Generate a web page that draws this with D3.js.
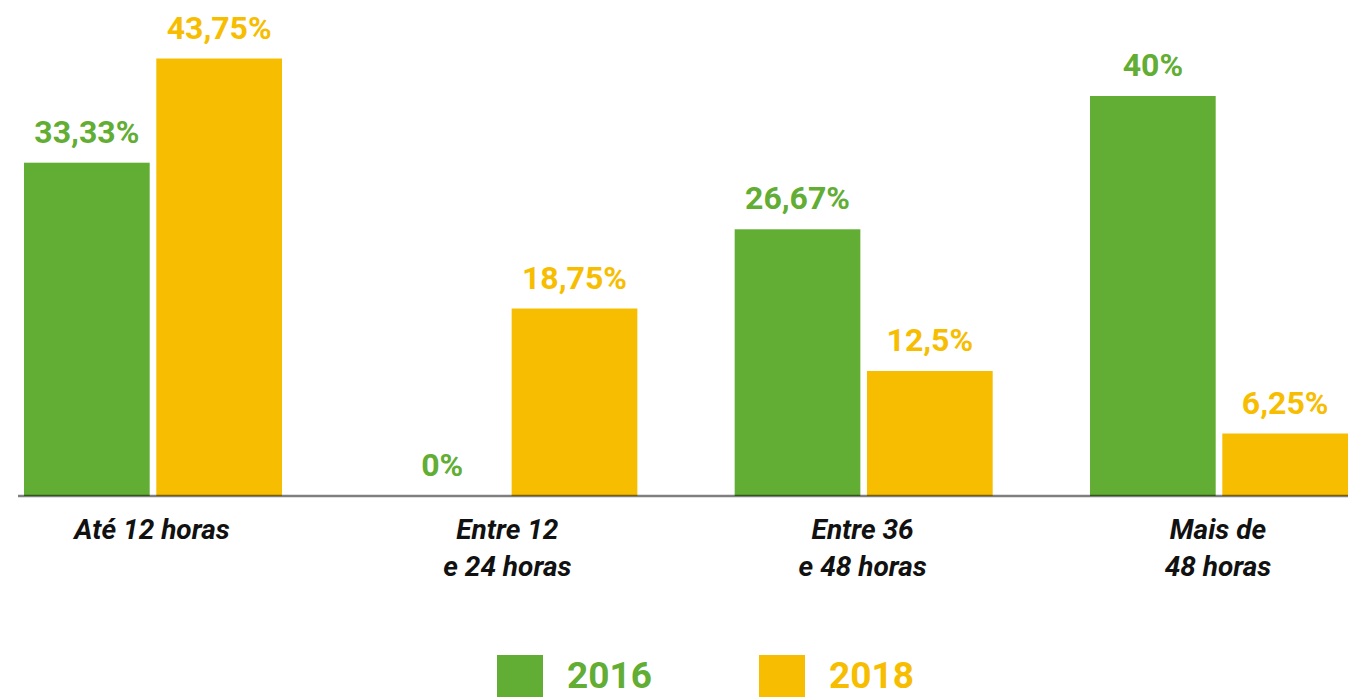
<!DOCTYPE html>
<html>
<head>
<meta charset="utf-8">
<script src="https://cdn.jsdelivr.net/npm/d3@7"></script>
<style>
    html, body { margin: 0; padding: 0; background: #fff; overflow: hidden; }
    svg { display: block; font-family: Roboto, "DejaVu Sans", sans-serif; }
</style>
</head>
<body>
<svg id="chart" width="1348" height="697"></svg>
<script>
// Kategorien und Werte (in %)
const categories = ['Até 12 horas', 'Entre 12 e 24 horas', 'Entre 36 e 48 horas', 'Mais de 48 horas'];
const categoryLines = [['Até 12 horas'], ['Entre 12', 'e 24 horas'], ['Entre 36', 'e 48 horas'], ['Mais de', '48 horas']];
const seriesNames = ['2016', '2018'];
const values2016 = [33.33, 0, 26.67, 40];
const values2018 = [43.75, 18.75, 12.5, 6.25];
const valueLabels2016 = ['33,33%', '0%', '26,67%', '40%'];
const valueLabels2018 = ['43,75%', '18,75%', '12,5%', '6,25%'];

const COLORS = { '2016': '#62ad33', '2018': '#f7bd00' };

const svg = d3.select('#chart');
const baseline = 496;

// Skalen
const xGroup = d3.scalePoint()
    .domain(categories)
    .range([152, 1218]);

const xSeries = d3.scaleBand()
    .domain(seriesNames)
    .range([-128, 130])
    .paddingInner(0.05);

const yScale = d3.scaleLinear()
    .domain([0, 45])
    .range([baseline, 46]);

const series = [
    { name: '2016', values: values2016, labels: valueLabels2016 },
    { name: '2018', values: values2018, labels: valueLabels2018 }
];

// Balken + Werte
series.forEach(s => {
    const g = svg.append('g').attr('class', `series-${s.name}`);

    g.selectAll('rect')
        .data(s.values)
        .enter()
        .append('rect')
        .attr('x', (d, i) => xGroup(categories[i]) + xSeries(s.name))
        .attr('y', d => yScale(d))
        .attr('width', xSeries.bandwidth())
        .attr('height', d => baseline - yScale(d))
        .style('fill', COLORS[s.name]);

    g.selectAll('text')
        .data(s.values)
        .enter()
        .append('text')
        .attr('x', (d, i) => xGroup(categories[i]) + xSeries(s.name) + xSeries.bandwidth() / 2)
        .attr('y', d => yScale(d) - 20)
        .attr('text-anchor', 'middle')
        .style('font-size', '32px')
        .style('font-weight', 700)
        .style('fill', COLORS[s.name])
        .text((d, i) => s.labels[i]);
});

// Grundlinie (ueber den Balken)
svg.append('line')
    .attr('x1', 18)
    .attr('x2', 1348)
    .attr('y1', baseline)
    .attr('y2', baseline)
    .style('stroke', '#000')
    .style('stroke-opacity', 0.5)
    .style('stroke-width', 2.5);

// Kategorie-Beschriftungen
categories.forEach((cat, i) => {
    const t = svg.append('text')
        .attr('x', xGroup(cat))
        .attr('y', 539)
        .attr('text-anchor', 'middle')
        .style('font-size', '28px')
        .style('font-weight', 700)
        .style('font-style', 'italic')
        .style('fill', '#111');
    categoryLines[i].forEach((line, j) => {
        t.append('tspan')
            .attr('x', xGroup(cat))
            .attr('dy', j === 0 ? 0 : 37)
            .text(line);
    });
});

// Legende
const legendX = d3.scalePoint()
    .domain(seriesNames)
    .range([497, 759]);

const legend = svg.append('g').attr('class', 'legend');
seriesNames.forEach(name => {
    legend.append('rect')
        .attr('x', legendX(name))
        .attr('y', 655)
        .attr('width', 46)
        .attr('height', 42)
        .style('fill', COLORS[name]);

    legend.append('text')
        .attr('x', legendX(name) + 70)
        .attr('y', 688)
        .style('font-size', '37px')
        .style('font-weight', 700)
        .style('fill', COLORS[name])
        .text(name);
});
</script>
</body>
</html>
